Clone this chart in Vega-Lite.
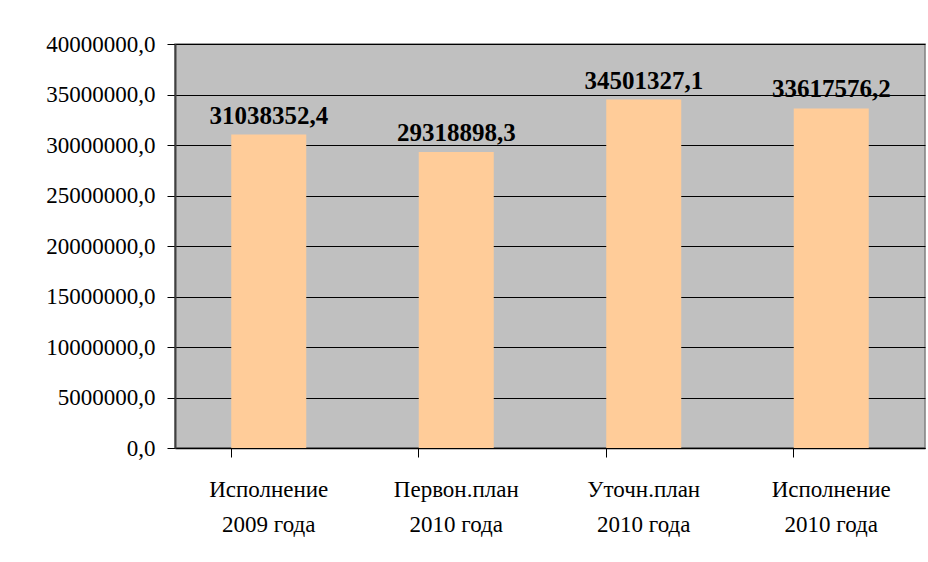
{
  "$schema": "https://vega.github.io/schema/vega-lite/v6.json",
  "autosize": "none",
  "width": 750,
  "height": 404,
  "padding": {"left": 175, "top": 44, "right": 3, "bottom": 114},
  "background": "white",
  "config": {
    "locale": {"number": {"decimal": ",", "thousands": "", "grouping": [3], "currency": ["", ""]}},
    "view": {"fill": "#C0C0C0", "stroke": "#808080", "strokeWidth": 1.5},
    "font": "Liberation Serif"
  },
  "data": {
    "values": [
      {"category": "Исполнение 2009 года", "value": 31038352.4},
      {"category": "Первон.план 2010 года", "value": 29318898.3},
      {"category": "Уточн.план 2010 года", "value": 34501327.1},
      {"category": "Исполнение 2010 года", "value": 33617576.2}
    ]
  },
  "encoding": {
    "x": {
      "field": "category",
      "type": "nominal",
      "sort": null,
      "scale": {"paddingInner": 0.6, "paddingOuter": 0.3},
      "axis": {
        "title": null,
        "labelAngle": 0,
        "labelFont": "Liberation Serif",
        "labelFontSize": 23,
        "labelColor": "black",
        "labelLineHeight": 35,
        "labelPadding": 21,
        "labelExpr": "[slice(datum.label, 0, indexof(datum.label, ' ')), slice(datum.label, indexof(datum.label, ' ') + 1)]",
        "bandPosition": 0,
        "tickColor": "black",
        "tickSize": 9,
        "domainColor": "black",
        "domainWidth": 1.5,
        "grid": false
      }
    },
    "y": {
      "field": "value",
      "type": "quantitative",
      "scale": {"domain": [0, 40000000], "nice": false},
      "axis": {
        "title": null,
        "values": [0, 5000000, 10000000, 15000000, 20000000, 25000000, 30000000, 35000000, 40000000],
        "format": ".1f",
        "labelFont": "Liberation Serif",
        "labelFontSize": 23,
        "labelColor": "black",
        "labelPadding": 12,
        "tickColor": "black",
        "tickSize": 8,
        "domainColor": "#404040",
        "domainWidth": 2,
        "grid": true,
        "gridColor": "black",
        "gridWidth": 1,
        "gridOpacity": 1
      }
    }
  },
  "layer": [
    {"mark": {"type": "bar", "color": "#FFCC99"}},
    {
      "mark": {"type": "text", "baseline": "alphabetic", "dy": -11, "font": "Liberation Serif", "fontSize": 25, "fontWeight": "bold", "color": "black"},
      "encoding": {"text": {"field": "value", "type": "quantitative", "format": ".1f"}}
    }
  ]
}
